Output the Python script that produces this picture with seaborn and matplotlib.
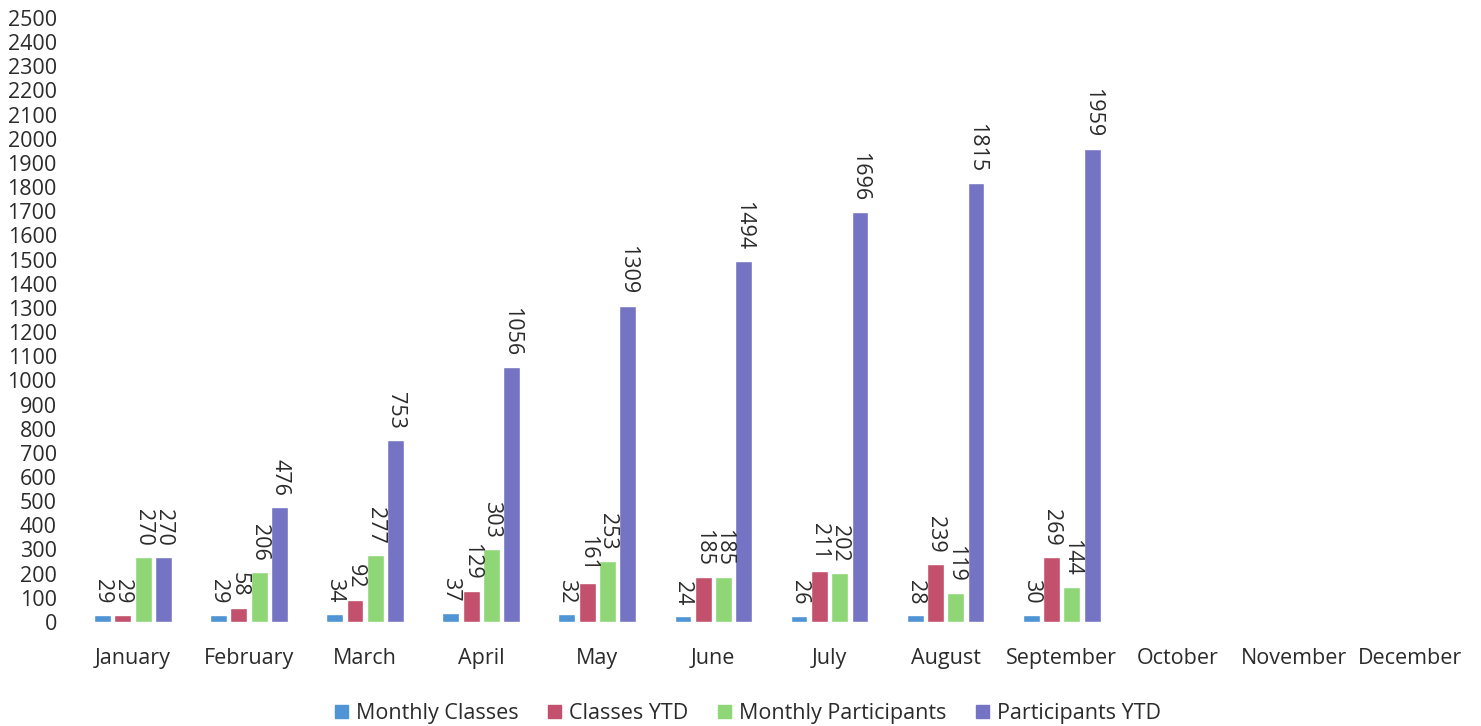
import matplotlib
matplotlib.use("Agg")
import matplotlib.pyplot as plt
import seaborn as sns
import pandas as pd

months = ["January", "February", "March", "April", "May", "June", "July",
          "August", "September", "October", "November", "December"]
series = ["Monthly Classes", "Classes YTD", "Monthly Participants", "Participants YTD"]
monthly_classes = [29, 29, 34, 37, 32, 24, 26, 28, 30]
classes_ytd = [29, 58, 92, 129, 161, 185, 211, 239, 269]
monthly_participants = [270, 206, 277, 303, 253, 185, 202, 119, 144]
participants_ytd = [270, 476, 753, 1056, 1309, 1494, 1696, 1815, 1959]
colors = ["#4f94d4", "#c3506c", "#8ed676", "#7574c4"]

values = [monthly_classes, classes_ytd, monthly_participants, participants_ytd]
rows = []
for s, vals in zip(series, values):
    for m, v in zip(months, vals):
        rows.append({"Month": m, "Series": s, "Value": v})
df = pd.DataFrame(rows)

sns.set_theme(style="white")
plt.rcParams["font.family"] = ["Open Sans", "DejaVu Sans"]
text_color = "#2b2b2b"
fs = 15.5

fig = plt.figure(figsize=(14.81, 7.26), dpi=100)
ax = fig.add_axes([0.0506, 0.1433, 0.9406, 0.832])

sns.barplot(data=df, x="Month", y="Value", hue="Series", order=months,
            hue_order=series, palette=colors, width=0.7, gap=0.17, ax=ax,
            saturation=1, legend=False, errorbar=None)

for cont in ax.containers:
    ax.bar_label(cont, rotation=270, padding=8, fontsize=fs, color=text_color)

ax.set_ylim(0, 2500)
ax.set_xlim(-0.5, 11.5)
ax.set_yticks(range(0, 2501, 100))
ax.set_xlabel("")
ax.set_ylabel("")
for sp in ax.spines.values():
    sp.set_visible(False)
ax.tick_params(axis="y", length=0, pad=13, labelsize=fs, labelcolor=text_color)
ax.tick_params(axis="x", length=0, pad=19, labelsize=fs, labelcolor=text_color)
ax.grid(False)

handles = [plt.Rectangle((0, 0), 1, 1, color=c) for c in colors]
fig.legend(handles, series, loc="center", bbox_to_anchor=(0.505, 0.017), ncol=4,
           frameon=False, fontsize=fs, handlelength=0.6, handleheight=0.6,
           handletextpad=0.4, columnspacing=1.35, labelcolor=text_color)

fig.savefig("out.png", dpi=100)
